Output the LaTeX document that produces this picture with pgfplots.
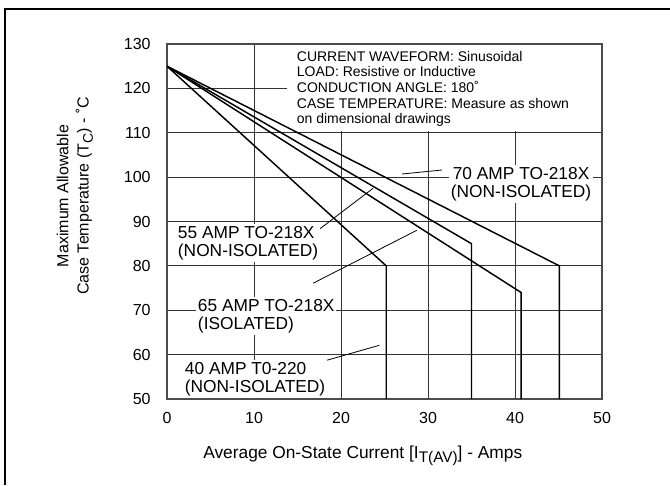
\documentclass[border=0pt]{standalone}
\usepackage{fontspec}
\setmainfont{Liberation Sans}
\usepackage{pgfplots}
\pgfplotsset{compat=1.18}
\newcommand\lbl{\fontsize{13}{13.75}\selectfont}
\begin{document}
\begin{tikzpicture}
\path[use as bounding box] (0,0) rectangle (502.5pt,363.75pt);
\begin{axis}[
  at={(125.25pt,64.5pt)}, anchor=south west,
  scale only axis, width=326.25pt, height=266.25pt,
  xmin=0, xmax=50, ymin=50, ymax=130,
  xtick={0,10,...,50}, ytick={50,60,...,130},
  grid=major, major grid style={black!80, line width=0.7pt},
  axis line style={black!70, line width=0.8pt},
  major tick length=0pt,
  /pgf/number format/assume math mode=true,
  tick label style={font=\fontsize{12}{12}\selectfont},
  yticklabel style={xshift=-8.8pt},
  xticklabel style={yshift=-6.8pt},
  xlabel={Average On-State Current [I\raisebox{-0.5ex}{\fontsize{11.5}{11.5}\selectfont T(AV)}] - Amps},
  xlabel style={at={(axis description cs:0.45,0)}, anchor=center, yshift=-42.5pt, font=\fontsize{13}{13}\selectfont},
  ylabel={Maximum Allowable\\Case Temperature (T\raisebox{-0.5ex}{\fontsize{10.5}{10.5}\selectfont C}) - ˚C},
  ylabel style={at={(axis description cs:0,0.572)}, anchor=center, yshift=69pt, align=center, font=\fontsize{12}{15.2}\selectfont},
]
% white area behind the condition notes
\fill[white] (axis cs:13.8,110.3) rectangle (axis cs:49.85,129.85);

\addplot[black, line width=1.1pt] coordinates {(0,125) (25.2,80) (25.2,50)};
\addplot[black, line width=1.1pt] coordinates {(0,125) (35.0,85) (35.0,50)};
\addplot[black, line width=1.1pt] coordinates {(0,125) (40.7,74) (40.7,50)};
\addplot[black, line width=1.1pt] coordinates {(0,125) (45.1,80) (45.1,50)};

\node[anchor=north west, align=left, inner sep=0pt, font=\fontsize{10.5}{11.8}\selectfont]
  at (axis cs:14.9,128.5)
  {CURRENT WAVEFORM: Sinusoidal\\LOAD: Resistive or Inductive\\CONDUCTION ANGLE: 180˚\\CASE TEMPERATURE: Measure as shown\\on dimensional drawings};

% pointer lines
\draw[black, line width=0.6pt] (axis cs:27.0,100.7) -- (axis cs:31.6,101.6);
\draw[black, line width=0.6pt] (axis cs:17.4,88.1) -- (axis cs:23.7,97.5);
\draw[black, line width=0.6pt] (axis cs:16.8,76.1) -- (axis cs:28.7,88.0);
\draw[black, line width=0.6pt] (axis cs:17.6,58.3) -- (axis cs:24.4,62.1);

\node[fill=white, inner sep=1.5pt, align=center, font=\lbl] at (axis cs:40.7,98.4) {70 AMP TO-218X\\(NON-ISOLATED)};
\node[fill=white, inner sep=1.5pt, anchor=west, align=left, font=\lbl] at (axis cs:1.0,85.1) {55 AMP TO-218X\\(NON-ISOLATED)};
\node[fill=white, inner sep=1.5pt, anchor=west, align=left, font=\lbl] at (axis cs:3.3,68.6) {65 AMP TO-218X\\(ISOLATED)};
\node[fill=white, inner sep=1.5pt, anchor=west, align=left, font=\lbl] at (axis cs:1.8,54.4) {40 AMP T0-220\\(NON-ISOLATED)};
\end{axis}
\draw[black, line width=1.5pt] (3pt,357pt) -- (502.5pt,357pt);
\draw[black, line width=1.5pt] (3.9pt,357.75pt) -- (3.9pt,0pt);
\end{tikzpicture}
\end{document}
